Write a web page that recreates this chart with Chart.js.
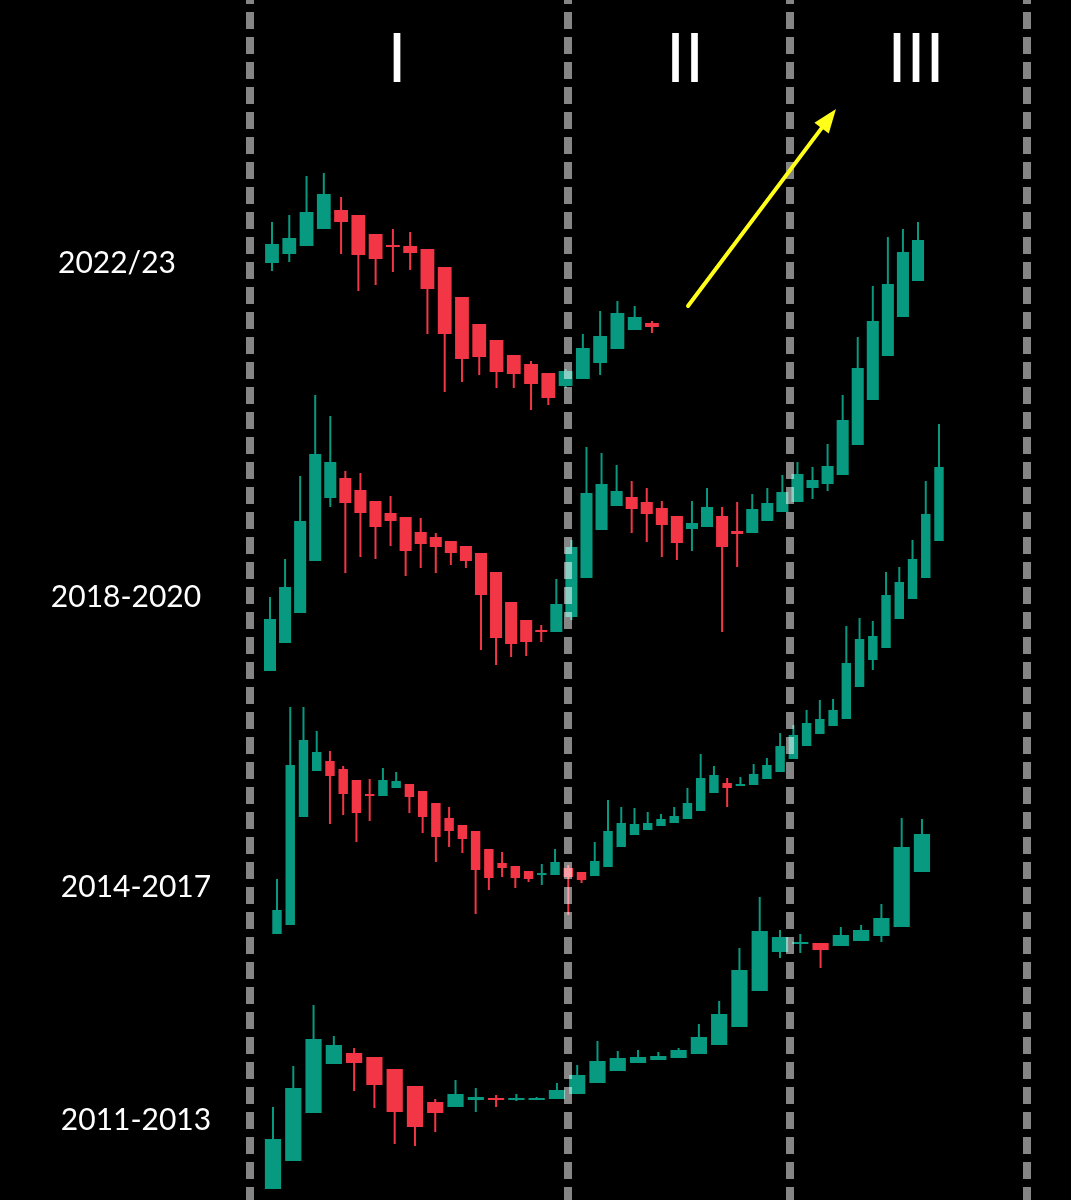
<!DOCTYPE html>
<html>
<head>
<meta charset="utf-8">
<title>Cycles</title>
<script src="https://cdn.jsdelivr.net/npm/chart.js@4.4.1/dist/chart.umd.min.js"></script>
<style>
    html, body { margin: 0; padding: 0; background: #000; }
    canvas { display: block; }
</style>
</head>
<body>
<canvas id="cycleChart" width="1071" height="1200"></canvas>
<script>
// candles are [open, high, low, close], price level in chart units (no axis in the source)
const cycleLabels = ['2022/23', '2018-2020', '2014-2017', '2011-2013'];
const phaseLabels = ['I', 'II', 'III'];

const candles2022 = [
    [937, 978, 929, 956], [946, 985, 938, 962], [954, 1024, 954, 988], [971, 1027, 971, 1006],
    [990, 1003, 946, 978], [985, 985, 909, 945], [966, 966, 915, 941], [955, 971, 928, 953],
    [954, 968, 930, 947], [951, 951, 866, 911], [933, 933, 808, 866], [903, 903, 818, 841],
    [876, 876, 825, 843], [860, 860, 812, 828], [845, 845, 812, 826], [836, 839, 790, 816],
    [827, 827, 795, 802], [814, 831, 812, 829], [821, 866, 821, 852], [837, 889, 825, 864],
    [851, 899, 851, 887], [870, 894, 870, 883], [877, 879, 867, 873]
];

const candles2018 = [
    [529, 603, 529, 581], [557, 641, 557, 613], [587, 724, 587, 679], [639, 805, 639, 746],
    [702, 784, 693, 738], [722, 729, 627, 697], [710, 727, 643, 687], [699, 699, 641, 673],
    [687, 704, 654, 679], [683, 683, 624, 649], [668, 682, 632, 656], [663, 667, 627, 653],
    [659, 659, 635, 647], [654, 654, 632, 639], [647, 647, 550, 605], [628, 628, 535, 562],
    [598, 598, 543, 556], [580, 580, 544, 558], [570, 575, 558, 568], [568, 621, 568, 596],
    [583, 660, 580, 653], [622, 753, 622, 707], [670, 747, 670, 716], [694, 735, 694, 709],
    [703, 719, 667, 691], [698, 712, 658, 686], [692, 699, 643, 675], [684, 684, 640, 657],
    [671, 699, 649, 677], [673, 712, 673, 693], [684, 693, 568, 653], [669, 698, 633, 666],
    [667, 706, 667, 691], [679, 712, 679, 697], [688, 725, 688, 708], [698, 738, 698, 726],
    [712, 733, 701, 720], [716, 756, 709, 734], [725, 805, 725, 780], [755, 863, 755, 832],
    [800, 914, 800, 879], [844, 963, 844, 916], [883, 971, 883, 948], [919, 978, 919, 960]
];

const candles2014 = [
    [266, 321, 266, 290], [275, 493, 275, 435], [383, 493, 383, 460], [429, 469, 429, 448],
    [439, 449, 376, 424], [431, 434, 385, 406], [420, 420, 358, 387], [405, 421, 379, 404],
    [404, 432, 404, 420], [412, 428, 412, 419], [416, 416, 387, 403], [409, 409, 367, 383],
    [397, 397, 338, 363], [382, 393, 353, 369], [375, 375, 347, 361], [369, 369, 286, 330],
    [351, 351, 310, 322], [337, 348, 323, 332], [334, 334, 312, 322], [329, 329, 318, 321],
    [325, 336, 315, 326], [325, 351, 325, 338], [332, 335, 285, 323], [328, 328, 317, 320],
    [324, 358, 324, 339], [333, 400, 333, 369], [353, 393, 353, 377], [365, 392, 365, 376],
    [370, 388, 370, 377], [374, 386, 374, 381], [377, 393, 377, 384], [381, 412, 381, 397],
    [389, 446, 389, 422], [407, 434, 407, 425], [417, 422, 393, 412], [414, 423, 414, 416],
    [415, 436, 415, 426], [421, 442, 421, 435], [428, 467, 428, 454], [441, 475, 441, 465],
    [454, 490, 454, 477], [466, 500, 466, 481], [474, 501, 474, 490], [481, 574, 481, 537],
    [513, 582, 513, 561], [540, 579, 530, 564], [552, 628, 552, 605], [581, 633, 581, 618],
    [601, 660, 601, 641], [622, 719, 622, 686], [659, 776, 659, 733]
];

const candles2011 = [
    [11, 93, 11, 61], [39, 134, 39, 112], [87, 195, 87, 161], [136, 164, 136, 155],
    [147, 152, 109, 137], [143, 143, 92, 115], [131, 131, 56, 88], [114, 114, 54, 73],
    [98, 101, 68, 87], [93, 120, 93, 106], [100, 112, 88, 103], [102, 105, 93, 100],
    [100, 106, 99, 102], [100, 103, 100, 102], [101, 117, 101, 110], [106, 135, 106, 125],
    [117, 159, 117, 139], [129, 149, 129, 142], [137, 150, 137, 143], [140, 148, 140, 144],
    [142, 152, 142, 150], [146, 176, 146, 163], [155, 199, 155, 186], [173, 252, 173, 230],
    [209, 303, 209, 269], [248, 270, 242, 263], [256, 266, 247, 258], [257, 257, 232, 250],
    [254, 273, 254, 265], [259, 275, 259, 270], [264, 296, 258, 282], [273, 382, 273, 353],
    [328, 381, 328, 366]
];

const UP = '#089981';
const DOWN = '#f23645';
const WIDTH = 1071;

// where each cycle sits on the canvas (first candle x, candle spacing) and its label
const cycles = [
    { label: cycleLabels[0], candles: candles2022, firstX: 272, step: 17.27, labelX: 117, labelY: 273 },
    { label: cycleLabels[1], candles: candles2018, firstX: 270, step: 15.07, labelX: 126, labelY: 607 },
    { label: cycleLabels[2], candles: candles2014, firstX: 277, step: 13.24, labelX: 136, labelY: 897 },
    { label: cycleLabels[3], candles: candles2011, firstX: 273, step: 20.28, labelX: 136, labelY: 1130 }
];

const separatorsX = [250, 568, 790, 1027];
const phaseX = [397, 685, 916];

const overlay = {
    id: 'overlay',
    afterDatasetsDraw(chart) {
        const ctx = chart.ctx;
        ctx.save();

        // dashed phase separators, drawn over the candles
        ctx.strokeStyle = 'rgba(255, 255, 255, 0.52)';
        ctx.lineWidth = 8;
        ctx.setLineDash([17, 8]);
        separatorsX.forEach(function (x) {
            ctx.beginPath();
            ctx.moveTo(x, -13);
            ctx.lineTo(x, chart.height);
            ctx.stroke();
        });
        ctx.setLineDash([]);

        // yellow arrow
        const x1 = 688, y1 = 306, x2 = 836, y2 = 109;
        const ang = Math.atan2(y2 - y1, x2 - x1);
        ctx.strokeStyle = '#ffff1a';
        ctx.fillStyle = '#ffff1a';
        ctx.lineWidth = 4;
        ctx.lineCap = 'round';
        ctx.beginPath();
        ctx.moveTo(x1, y1);
        ctx.lineTo(x2 - 18 * Math.cos(ang), y2 - 18 * Math.sin(ang));
        ctx.stroke();
        ctx.beginPath();
        ctx.moveTo(x2, y2);
        ctx.lineTo(x2 - 24 * Math.cos(ang) + 9 * Math.sin(ang), y2 - 24 * Math.sin(ang) - 9 * Math.cos(ang));
        ctx.lineTo(x2 - 24 * Math.cos(ang) - 9 * Math.sin(ang), y2 - 24 * Math.sin(ang) + 9 * Math.cos(ang));
        ctx.closePath();
        ctx.fill();

        // texts
        ctx.fillStyle = '#ffffff';
        ctx.textAlign = 'center';
        ctx.textBaseline = 'alphabetic';
        ctx.font = '68px Lato';
        phaseLabels.forEach(function (t, i) {
            ctx.fillText(t, phaseX[i], 82);
        });
        ctx.font = '30px Lato';
        cycles.forEach(function (c) {
            ctx.fillText(c.label, c.labelX, c.labelY);
        });
        ctx.restore();
    }
};

document.addEventListener('DOMContentLoaded', function () {
    const ctx = document.getElementById('cycleChart').getContext('2d');

    const scales = {
        y: { type: 'linear', min: 0, max: 1200, display: false, bounds: 'data' }
    };
    const datasets = [];

    cycles.forEach(function (c, k) {
        const axisId = 'x' + k;
        scales[axisId] = {
            type: 'linear',
            display: false,
            offset: false,
            bounds: 'data',
            min: -c.firstX / c.step,
            max: (WIDTH - c.firstX) / c.step
        };
        const colors = c.candles.map(d => (d[3] >= d[0] ? UP : DOWN));

        datasets.push({
            label: c.label + ' wicks',
            xAxisID: axisId,
            data: c.candles.map((d, i) => ({ x: i, y: [d[2], d[1]] })),
            backgroundColor: colors,
            grouped: false,
            maxBarThickness: 2,
            order: 2
        });
        datasets.push({
            label: c.label,
            xAxisID: axisId,
            data: c.candles.map((d, i) => ({ x: i, y: [d[0], d[3]] })),
            backgroundColor: colors,
            grouped: false,
            barPercentage: 0.8,
            categoryPercentage: 1,
            minBarLength: 2,
            order: 1
        });
    });

    new Chart(ctx, {
        type: 'bar',
        data: { datasets: datasets },
        options: {
            responsive: false,
            animation: false,
            layout: { padding: 0 },
            scales: scales,
            plugins: {
                legend: { display: false },
                tooltip: { enabled: false }
            }
        },
        plugins: [overlay]
    });
});
</script>
</body>
</html>
